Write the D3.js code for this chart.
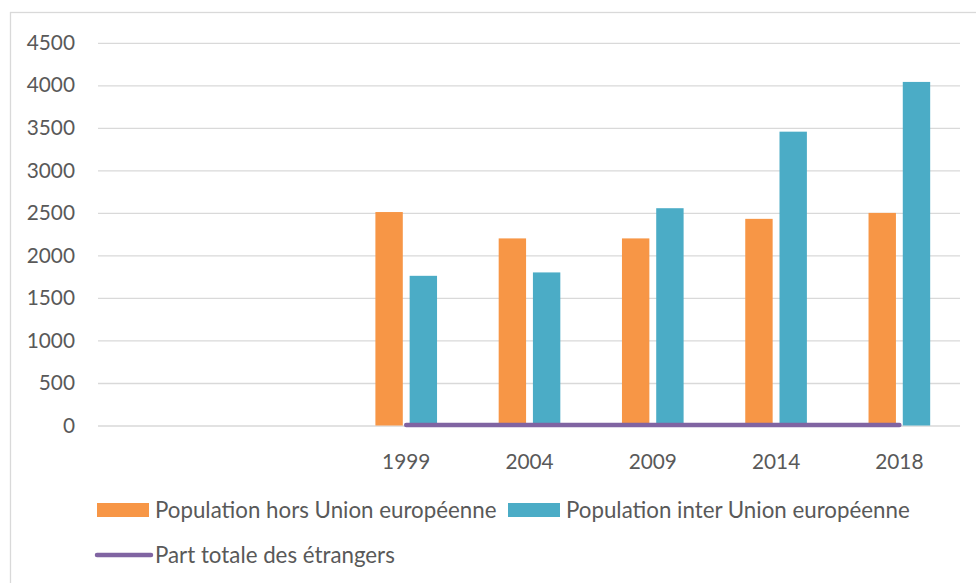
<!DOCTYPE html>
<html>
<head>
<meta charset="utf-8">
<script src="https://cdnjs.cloudflare.com/ajax/libs/d3/7.8.5/d3.min.js"></script>
<style>
html, body { margin: 0; padding: 0; background: #fff; }
svg { display: block; }
text { font-family: Lato, "Open Sans", sans-serif; fill: #595959; }
</style>
</head>
<body>
<svg id="chart" width="976" height="583"></svg>
<script>
// Data
const categories = ["", " ", "1999", "2004", "2009", "2014", "2018"];
const years = ["1999", "2004", "2009", "2014", "2018"];
const horsUE = [2510, 2200, 2200, 2430, 2500];
const interUE = [1760, 1800, 2555, 3455, 4040];
const partTotale = [4.6, 4.7, 5.6, 6.5, 7.2];
const yTicks = [0, 500, 1000, 1500, 2000, 2500, 3000, 3500, 4000, 4500];
const seriesNames = ["Population hors Union européenne", "Population inter Union européenne", "Part totale des étrangers"];
const colors = ["#F79646", "#4BACC6", "#8064A2"];

(function () {
const svg = d3.select("#chart");

// chart border
svg.append("rect")
  .attr("x", 10.5).attr("y", 12.5)
  .attr("width", 1000).attr("height", 600)
  .attr("fill", "#fff")
  .attr("stroke", "#D9D9D9").attr("stroke-width", 1.3);

const pLeft = 98, pRight = 961, pTop = 42.8, pBottom = 425.5;
const axisFont = 20.8, legendFont = 22.3;

const x = d3.scaleBand().domain(categories).range([pLeft, pRight]).paddingInner(0).paddingOuter(0);
const x1 = d3.scaleBand().domain([0, 1]).range([0, x.bandwidth()]).paddingInner(0.2).paddingOuter(0.9);
const y = d3.scaleLinear().domain([0, 4500]).range([pBottom, pTop]);

// gridlines + y axis
const yAxis = d3.axisLeft(y).tickValues(yTicks).tickSize(-(pRight - pLeft - 1)).tickPadding(23).tickFormat(d3.format("d"));
const gy = svg.append("g").attr("transform", `translate(${pLeft},0)`).call(yAxis);
gy.select(".domain").remove();
gy.selectAll(".tick line").attr("stroke", "#D9D9D9").attr("stroke-width", 1.3);
gy.selectAll(".tick text").attr("font-size", axisFont).style("fill", "#595959").attr("font-family", "Lato, sans-serif");

// x axis labels
const xAxis = d3.axisBottom(x).tickSize(0).tickPadding(29);
const gx = svg.append("g").attr("transform", `translate(0,${pBottom})`).call(xAxis);
gx.select(".domain").remove();
gx.selectAll(".tick text").attr("font-size", axisFont).style("fill", "#595959").attr("font-family", "Lato, sans-serif");

// bars
const groups = svg.append("g").selectAll("g").data(years).join("g")
  .attr("transform", d => `translate(${x(d)},0)`);
groups.append("rect")
  .attr("x", x1(0)).attr("width", x1.bandwidth())
  .attr("y", (d, i) => y(horsUE[i])).attr("height", (d, i) => y(0) - y(horsUE[i]))
  .attr("fill", colors[0]);
groups.append("rect")
  .attr("x", x1(1)).attr("width", x1.bandwidth())
  .attr("y", (d, i) => y(interUE[i])).attr("height", (d, i) => y(0) - y(interUE[i]))
  .attr("fill", colors[1]);

// line
const line = d3.line().x((d, i) => x(years[i]) + x.bandwidth() / 2).y(d => y(d));
svg.append("path").datum(partTotale)
  .attr("d", line)
  .attr("fill", "none").attr("stroke", colors[2]).attr("stroke-width", 4.5)
  .attr("stroke-linecap", "round").attr("stroke-linejoin", "round");

// legend
const lg = svg.append("g");
lg.append("rect").attr("x", 97).attr("y", 503).attr("width", 52).attr("height", 14).attr("fill", colors[0]);
lg.append("text").attr("x", 155).attr("y", 518).attr("font-size", legendFont).text(seriesNames[0]);
lg.append("rect").attr("x", 508).attr("y", 503).attr("width", 52).attr("height", 14).attr("fill", colors[1]);
lg.append("text").attr("x", 566).attr("y", 518).attr("font-size", legendFont).text(seriesNames[1]);
lg.append("line").attr("x1", 97).attr("x2", 151).attr("y1", 555).attr("y2", 555)
  .attr("stroke", colors[2]).attr("stroke-width", 4.5).attr("stroke-linecap", "round");
lg.append("text").attr("x", 155).attr("y", 563).attr("font-size", legendFont).text(seriesNames[2]);
})();
</script>
</body>
</html>
